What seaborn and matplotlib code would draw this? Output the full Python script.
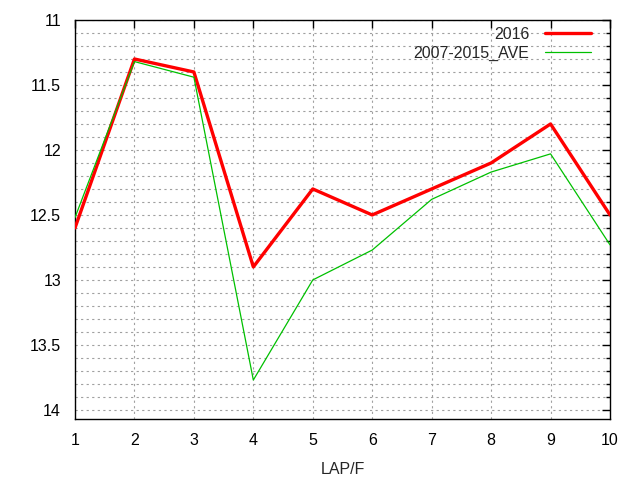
import matplotlib
matplotlib.use("Agg")
import matplotlib.pyplot as plt
import seaborn as sns
import pandas as pd
from matplotlib.ticker import MultipleLocator, FuncFormatter

laps = [1, 2, 3, 4, 5, 6, 7, 8, 9, 10]
y2016 = [12.6, 11.3, 11.4, 12.9, 12.3, 12.5, 12.3, 12.1, 11.8, 12.5]
yave = [12.52, 11.32, 11.44, 13.77, 13.0, 12.77, 12.38, 12.17, 12.03, 12.73]
labels = ["2016", "2007-2015_AVE"]

sns.set_style("white")
plt.rcParams['font.family'] = ['Liberation Sans', 'DejaVu Sans']

df = pd.DataFrame({
    "lap": laps * 2,
    "time": y2016 + yave,
    "series": [labels[0]] * len(laps) + [labels[1]] * len(laps),
})

fig = plt.figure(figsize=(6.4, 4.8), dpi=100)
ax = fig.add_axes([75/640, 61/480, 535/640, 399/480])

sns.lineplot(data=df, x="lap", y="time", hue="series", hue_order=labels,
             palette={labels[0]: "#ff0000", labels[1]: "#00c000"},
             size="series", sizes={labels[0]: 2.4, labels[1]: 0.9},
             size_order=labels, ax=ax, legend=True, zorder=3)

ax.set_xlim(1, 10)
ax.set_ylim(14.07, 11)
ax.xaxis.set_major_locator(MultipleLocator(1))
ax.yaxis.set_major_locator(MultipleLocator(0.5))
ax.yaxis.set_minor_locator(MultipleLocator(0.1))
ax.yaxis.set_major_formatter(FuncFormatter(lambda v, p: f"{v:g}"))

ax.grid(True, which="major", axis="x", color="#a0a0a0", linestyle=(0, (2, 3)), linewidth=0.8)
ax.grid(True, which="both", axis="y", color="#a0a0a0", linestyle=(0, (2, 3)), linewidth=0.8)
ax.set_axisbelow(True)

ax.tick_params(which="both", direction="in", top=True, right=True,
               labelsize=11.5, colors="black")
ax.tick_params(which="major", length=6, width=1, pad=10)
ax.tick_params(which="minor", length=3, width=1)
for s in ax.spines.values():
    s.set_color("black")
    s.set_linewidth(1)

ax.set_xlabel("LAP/F", fontsize=11.5, labelpad=10)
ax.set_ylabel("")

h, l = ax.get_legend_handles_labels()
leg = ax.legend(h, l, loc="upper right", frameon=False, markerfirst=False,
                fontsize=11.5, handlelength=2.9, borderaxespad=0, borderpad=0,
                bbox_to_anchor=(1 - 19/535, 1 - 7/399),
                labelspacing=0.22, handletextpad=0.95)

fig.savefig("out.png", dpi=100)
